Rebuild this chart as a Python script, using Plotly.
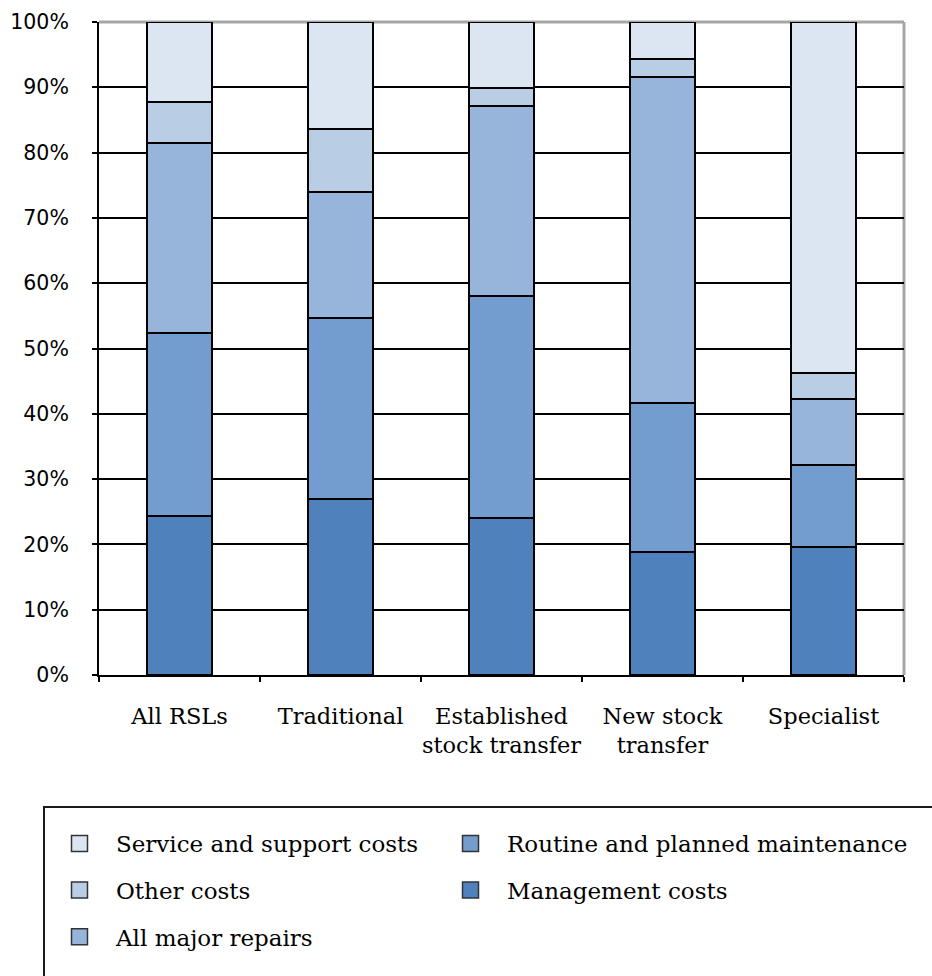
import plotly.graph_objects as go

categories = ["All RSLs", "Traditional", "Established<br>stock transfer", "New stock<br>transfer", "Specialist"]
management = [24.4, 26.9, 24.1, 18.9, 19.6]
routine = [27.9, 27.7, 34.0, 22.7, 12.5]
major_repairs = [29.1, 19.3, 29.1, 50.0, 10.2]
other = [6.3, 9.7, 2.7, 2.7, 3.9]
service = [12.3, 16.4, 10.1, 5.7, 53.8]
y_ticks = [0, 10, 20, 30, 40, 50, 60, 70, 80, 90, 100]
y_tick_labels = ["0%", "10%", "20%", "30%", "40%", "50%", "60%", "70%", "80%", "90%", "100%"]
grid_ticks = [10, 20, 30, 40, 50, 60, 70, 80, 90]

series = [
    ("Management costs", management, "#4F81BD", "legend4"),
    ("Routine and planned maintenance", routine, "#739DCF", "legend2"),
    ("All major repairs", major_repairs, "#97B5DB", "legend5"),
    ("Other costs", other, "#B9CDE5", "legend3"),
    ("Service and support costs", service, "#DCE6F2", "legend"),
]

fig = go.Figure()
for name, vals, col, lg in series:
    fig.add_trace(go.Bar(
        x=categories, y=vals, name=name, showlegend=False,
        marker=dict(color=col, line=dict(color="black", width=2)),
    ))
# legend entries (larger square swatches than the bar default)
for name, vals, col, lg in series:
    fig.add_trace(go.Scatter(
        x=[None], y=[None], mode="markers", name=name, legend=lg,
        marker=dict(symbol="square", size=16, color=col,
                    line=dict(color="#333333", width=1.5)),
        hoverinfo="skip",
    ))

W, H = 932, 976
L, R, T, B = 99, 28, 22, 301
pw = W - L - R
ph = H - T - B

def px_x(p):
    return (p - L) / pw

def px_y(p):
    return (H - B - p) / ph

legend_font = dict(family="DejaVu Serif", size=23, color="black")
col1_x = px_x(43)
col2_x = px_x(434)
rows = [843.5, 890, 936.7]
leg_pos = {
    "legend": (col1_x, rows[0]),
    "legend2": (col2_x, rows[0]),
    "legend3": (col1_x, rows[1]),
    "legend4": (col2_x, rows[1]),
    "legend5": (col1_x, rows[2]),
}
for key, (lx, ly) in leg_pos.items():
    fig.update_layout(**{key: dict(
        x=lx, y=px_y(ly), xanchor="left", yanchor="middle", itemwidth=63,
        font=legend_font, bgcolor="rgba(0,0,0,0)", borderwidth=0,
    )})

fig.update_layout(
    width=W, height=H,
    margin=dict(l=L, r=R, t=T, b=B, pad=0),
    barmode="stack", bargap=0.6,
    plot_bgcolor="white", paper_bgcolor="white",
    showlegend=True,
    xaxis=dict(
        type="category", tickson="boundaries", ticks="outside", ticklen=5,
        tickwidth=2, tickcolor="black", showline=True, linecolor="black",
        linewidth=2, showgrid=False, ticklabelstandoff=20, tickangle=0,
        automargin=False,
        tickfont=dict(family="DejaVu Serif", size=22.5, color="black"),
    ),
    yaxis=dict(
        range=[0, 100], tickmode="array", tickvals=y_ticks, ticktext=y_tick_labels,
        showgrid=False, zeroline=False, showline=True, automargin=False,
        linecolor="black", linewidth=2, ticks="outside", ticklen=5,
        tickwidth=2, tickcolor="black", ticklabelstandoff=19,
        tickfont=dict(family="DejaVu Sans", size=20.5, color="black"),
        minor=dict(tickmode="array", tickvals=grid_ticks, showgrid=True,
                   gridcolor="black", gridwidth=2, ticks=""),
    ),
    shapes=[
        dict(type="line", xref="paper", yref="paper", x0=0, x1=1, y0=1, y1=1,
             line=dict(color="#A6A6A6", width=3), layer="below"),
        dict(type="line", xref="paper", yref="paper", x0=1, x1=1, y0=0, y1=1,
             line=dict(color="#A6A6A6", width=3), layer="below"),
        dict(type="rect", xref="paper", yref="paper",
             x0=px_x(44), x1=px_x(950), y0=px_y(995), y1=px_y(807),
             line=dict(color="#1a1a1a", width=2), fillcolor="rgba(0,0,0,0)"),
    ],
)

fig.write_html("out.html")
